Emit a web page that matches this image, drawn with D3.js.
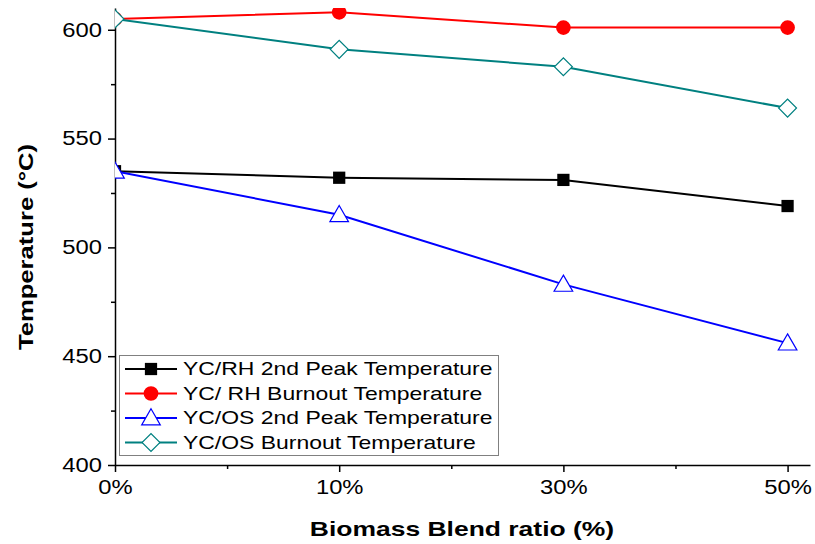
<!DOCTYPE html>
<html><head><meta charset="utf-8">
<script src="https://cdn.jsdelivr.net/npm/d3@7"></script>
<style>body{margin:0;background:#fff}svg{display:block;font-family:Arial,"Liberation Sans",sans-serif}</style>
</head><body><svg id="c" width="815" height="544"></svg>
<script>
const categories = ["0%","10%","30%","50%"];
const rhPeak = [535, 532, 531, 519];
const rhBurnout = [605, 608, 601, 601];
const osPeak = [535, 515, 483, 456];
const osBurnout = [605, 591, 583, 564];
const yTicks = [400, 450, 500, 550, 600];
const seriesNames = ["YC/RH 2nd Peak Temperature","YC/ RH Burnout Temperature","YC/OS 2nd Peak Temperature","YC/OS Burnout Temperature"];

const series = [
  {name: seriesNames[0], values: rhPeak, color: "#000000", shape: "square", fill: true},
  {name: seriesNames[1], values: rhBurnout, color: "#ff0000", shape: "circle", fill: true},
  {name: seriesNames[2], values: osPeak, color: "#0000ff", shape: "triangle", fill: false},
  {name: seriesNames[3], values: osBurnout, color: "#008080", shape: "diamond", fill: false}
];

const svg = d3.select("#c");
const pL = 115, pR = 810, pT = 8, pB = 465;
const x = d3.scaleLinear().domain([0, 3.1]).range([pL, pR]);
const y = d3.scaleLinear().domain([400, 610]).range([pB, pT]);

function stretch(sel, k){
  sel.each(function(){
    const len = this.getComputedTextLength();
    d3.select(this).attr("textLength", len*k).attr("lengthAdjust","spacingAndGlyphs");
  });
}

svg.append("defs").append("clipPath").attr("id","clip")
  .append("rect").attr("x", pL).attr("y", pT).attr("width", pR-pL).attr("height", pB-pT);

function symbolPath(shape){
  const s = {square: d3.symbol(d3.symbolSquare, 150),
             circle: d3.symbol(d3.symbolCircle, 170),
             triangle: d3.symbol(d3.symbolTriangle, 150),
             diamond: d3.symbol(d3.symbolSquare, 160)}[shape];
  return s();
}
function symTransform(shape, px, py){
  return `translate(${px},${py})${shape==="diamond"?" rotate(45)":""}${shape==="triangle"?" translate(0,1.5)":""}`;
}

// Axes
const yAxis = d3.axisLeft(y).tickValues(yTicks).tickSize(7).tickSizeOuter(0).tickPadding(6);
const gy = svg.append("g").attr("transform", `translate(${pL},0)`).call(yAxis);
gy.selectAll("text").style("font-size","19.5px").attr("fill","#000").call(stretch, 1.22);
gy.selectAll("line,path").attr("stroke","#000").attr("stroke-width",1.5);
const yMinor = d3.axisLeft(y).tickValues([425,475,525,575]).tickSize(4).tickFormat("").tickSizeOuter(0);
const gym = svg.append("g").attr("transform", `translate(${pL},0)`).call(yMinor);
gym.select("path").remove();
gym.selectAll("line").attr("stroke","#000").attr("stroke-width",1.5);

const xAxis = d3.axisBottom(x).tickValues([0,1,2,3]).tickFormat((d,i)=>categories[i]).tickSize(7).tickSizeOuter(0).tickPadding(8);
const gx = svg.append("g").attr("transform", `translate(0,${pB})`).call(xAxis);
gx.selectAll("text").style("font-size","19.5px").attr("fill","#000").call(stretch, 1.22);
gx.selectAll("line,path").attr("stroke","#000").attr("stroke-width",1.5);
const xMinor = d3.axisBottom(x).tickValues([0.5,1.5,2.5]).tickSize(4).tickFormat("").tickSizeOuter(0);
const gxm = svg.append("g").attr("transform", `translate(0,${pB})`).call(xMinor);
gxm.select("path").remove();
gxm.selectAll("line").attr("stroke","#000").attr("stroke-width",1.5);

// Titles
svg.append("text").attr("x", 462).attr("y", 536).attr("text-anchor","middle")
  .style("font-size","21px").style("font-weight","bold").text("Biomass Blend ratio (%)").call(stretch, 1.26);
svg.append("text").attr("transform","translate(33,247) rotate(-90)").attr("text-anchor","middle")
  .style("font-size","21px").style("font-weight","bold").text("Temperature (°C)").call(stretch, 1.22);

// Lines and markers
const plot = svg.append("g").attr("clip-path","url(#clip)");
const line = d3.line().x((d,i)=>x(i)).y(d=>y(d));
series.forEach(s=>{
  plot.append("path").datum(s.values).attr("d", line)
    .attr("fill","none").attr("stroke", s.color).attr("stroke-width", 2);
  plot.selectAll(null).data(s.values).enter().append("path")
    .attr("d", symbolPath(s.shape))
    .attr("transform",(d,i)=>symTransform(s.shape, x(i), y(d)))
    .attr("fill", s.fill ? s.color : "#fff")
    .attr("stroke", s.color).attr("stroke-width", s.fill ? 0 : 1.2);
});

// Legend
const lg = svg.append("g");
lg.append("rect").attr("x",119.5).attr("y",355.5).attr("width",379).attr("height",100)
  .attr("fill","#fff").attr("stroke","#808080").attr("stroke-width",1);
series.forEach((s,i)=>{
  const cy = 369 + i*24.5;
  lg.append("line").attr("x1",125).attr("x2",177).attr("y1",cy).attr("y2",cy)
    .attr("stroke", s.color).attr("stroke-width",2);
  lg.append("path").attr("d", symbolPath(s.shape))
    .attr("transform", symTransform(s.shape, 151, cy))
    .attr("fill", s.fill ? s.color : "#fff")
    .attr("stroke", s.color).attr("stroke-width", s.fill ? 0 : 1.2);
  lg.append("text").attr("x",183).attr("y",cy).attr("dy","0.35em")
    .style("font-size","18.5px").text(s.name).call(stretch, 1.24);
});
</script></body></html>
